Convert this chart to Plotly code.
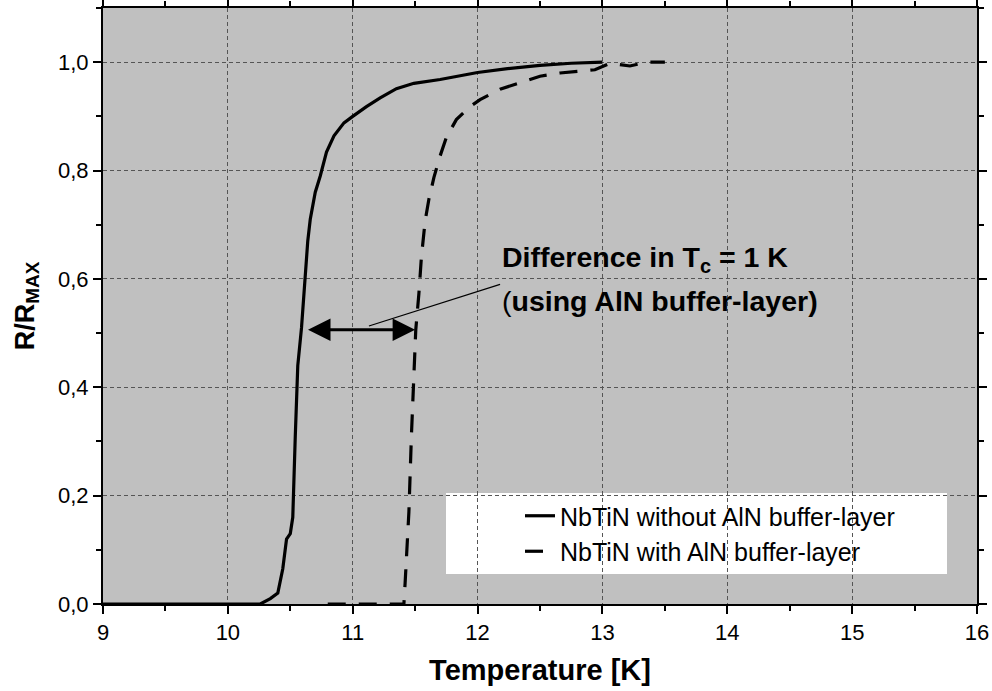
import plotly.graph_objects as go

# ---- data ----
T_without = [9.0, 9.5, 10.0, 10.26, 10.34, 10.40, 10.44, 10.47, 10.50, 10.52, 10.54, 10.56, 10.59,
             10.62, 10.64, 10.66, 10.70, 10.74, 10.79, 10.85, 10.93, 11.00, 11.11, 11.22,
             11.35, 11.49, 11.70, 12.00, 12.24, 12.50, 12.75, 13.00]
R_without = [0.0, 0.0, 0.0, 0.0, 0.01, 0.02, 0.065, 0.12, 0.13, 0.16, 0.31, 0.44, 0.51,
             0.61, 0.67, 0.71, 0.76, 0.79, 0.834, 0.864, 0.888, 0.90, 0.918, 0.934,
             0.951, 0.961, 0.968, 0.981, 0.988, 0.994, 0.998, 1.0]

T_with = [10.80, 11.00, 11.20, 11.41, 11.42, 11.45, 11.47, 11.49, 11.505, 11.53, 11.55, 11.58,
          11.61, 11.65, 11.70, 11.75, 11.83, 11.94, 12.02, 12.18, 12.32, 12.50, 12.66,
          12.80, 12.94, 13.06, 13.22, 13.36, 13.50]
R_with = [0.0, 0.0, 0.0, 0.0, 0.04, 0.17, 0.31, 0.41, 0.506, 0.573, 0.64, 0.707,
          0.747, 0.787, 0.827, 0.861, 0.894, 0.918, 0.931, 0.950, 0.961, 0.974, 0.980,
          0.983, 0.986, 0.998, 0.993, 1.0, 1.0]

series_names = ["NbTiN without AlN buffer-layer", "NbTiN with AlN buffer-layer"]

x_range = [9, 16]
y_range = [0, 1.1]

# annotation positions (data units)
arrow_x = [10.63, 11.50]
arrow_y = 0.506
pointer_start = (11.13, 0.513)
pointer_end = (12.18, 0.59)
label_x = 12.18

FONT = "Arial, Liberation Sans, sans-serif"

fig = go.Figure()
fig.add_trace(go.Scatter(x=T_without, y=R_without, mode="lines", name=series_names[0],
                         line=dict(color="black", width=3.2)))
fig.add_trace(go.Scatter(x=T_with, y=R_with, mode="lines", name=series_names[1],
                         line=dict(color="black", width=3.2, dash="18px,13px")))

# double-headed arrow
fig.add_annotation(x=arrow_x[1], y=arrow_y, ax=arrow_x[0], ay=arrow_y,
                   xref="x", yref="y", axref="x", ayref="y", text="",
                   showarrow=True, arrowhead=2, arrowside="end+start",
                   arrowsize=1.5, arrowwidth=3, arrowcolor="black", standoff=0, startstandoff=0)
# thin pointer line
fig.add_shape(type="line", x0=pointer_start[0], y0=pointer_start[1], x1=pointer_end[0], y1=pointer_end[1],
              xref="x", yref="y", line=dict(color="black", width=1.2))
# labels
fig.add_annotation(x=label_x, y=0.637, xref="x", yref="y", xanchor="left", yanchor="middle",
                   text="<b>Difference in T<sub>c</sub> = 1 K</b>", showarrow=False,
                   font=dict(family=FONT, size=28.5, color="black"))
fig.add_annotation(x=label_x, y=0.559, xref="x", yref="y", xanchor="left", yanchor="middle",
                   text="(<b>using AlN buffer-layer)</b>", showarrow=False,
                   font=dict(family=FONT, size=28.5, color="black"))

# legend background box
fig.add_shape(type="rect", xref="paper", yref="paper",
              x0=(446 - 103) / 874, x1=(947 - 103) / 874,
              y0=(604 - 574) / 596, y1=(604 - 493) / 596,
              fillcolor="white", line=dict(width=0), layer="between")

axis_common = dict(
    showline=True, linecolor="black", linewidth=2, mirror="allticks",
    ticks="outside", ticklen=8, tickwidth=2, tickcolor="black",
    showgrid=True, gridcolor="#555555", gridwidth=1, griddash="4px,3px",
    zeroline=False, automargin=False,
    tickfont=dict(family=FONT, size=22, color="black"),
)

fig.update_xaxes(range=x_range, dtick=1, tick0=9,
                 minor=dict(dtick=0.5, ticks="outside", ticklen=5, tickwidth=2, tickcolor="black", showgrid=False),
                 title=dict(text="<b>Temperature [K]</b>", standoff=15,
                            font=dict(family=FONT, size=29, color="black")),
                 **axis_common)
fig.update_yaxes(range=y_range, dtick=0.2, tick0=0, tickformat=".1f",
                 minor=dict(dtick=0.1, ticks="outside", ticklen=5, tickwidth=2, tickcolor="black", showgrid=False),
                 title=dict(text="<b>R/R<sub>MAX</sub></b>", standoff=16,
                            font=dict(family=FONT, size=27, color="black")),
                 **axis_common)

fig.update_layout(
    width=992, height=691,
    margin=dict(l=103, r=15, t=8, b=87),
    plot_bgcolor="#c0c0c0", paper_bgcolor="white",
    separators=",.",
    showlegend=True,
    legend=dict(x=(520 - 103) / 874, y=(604 - 493) / 596, xanchor="left", yanchor="top",
                bgcolor="rgba(0,0,0,0)", borderwidth=0,
                font=dict(family=FONT, size=25, color="black")),
)

fig.write_html("out.html")
